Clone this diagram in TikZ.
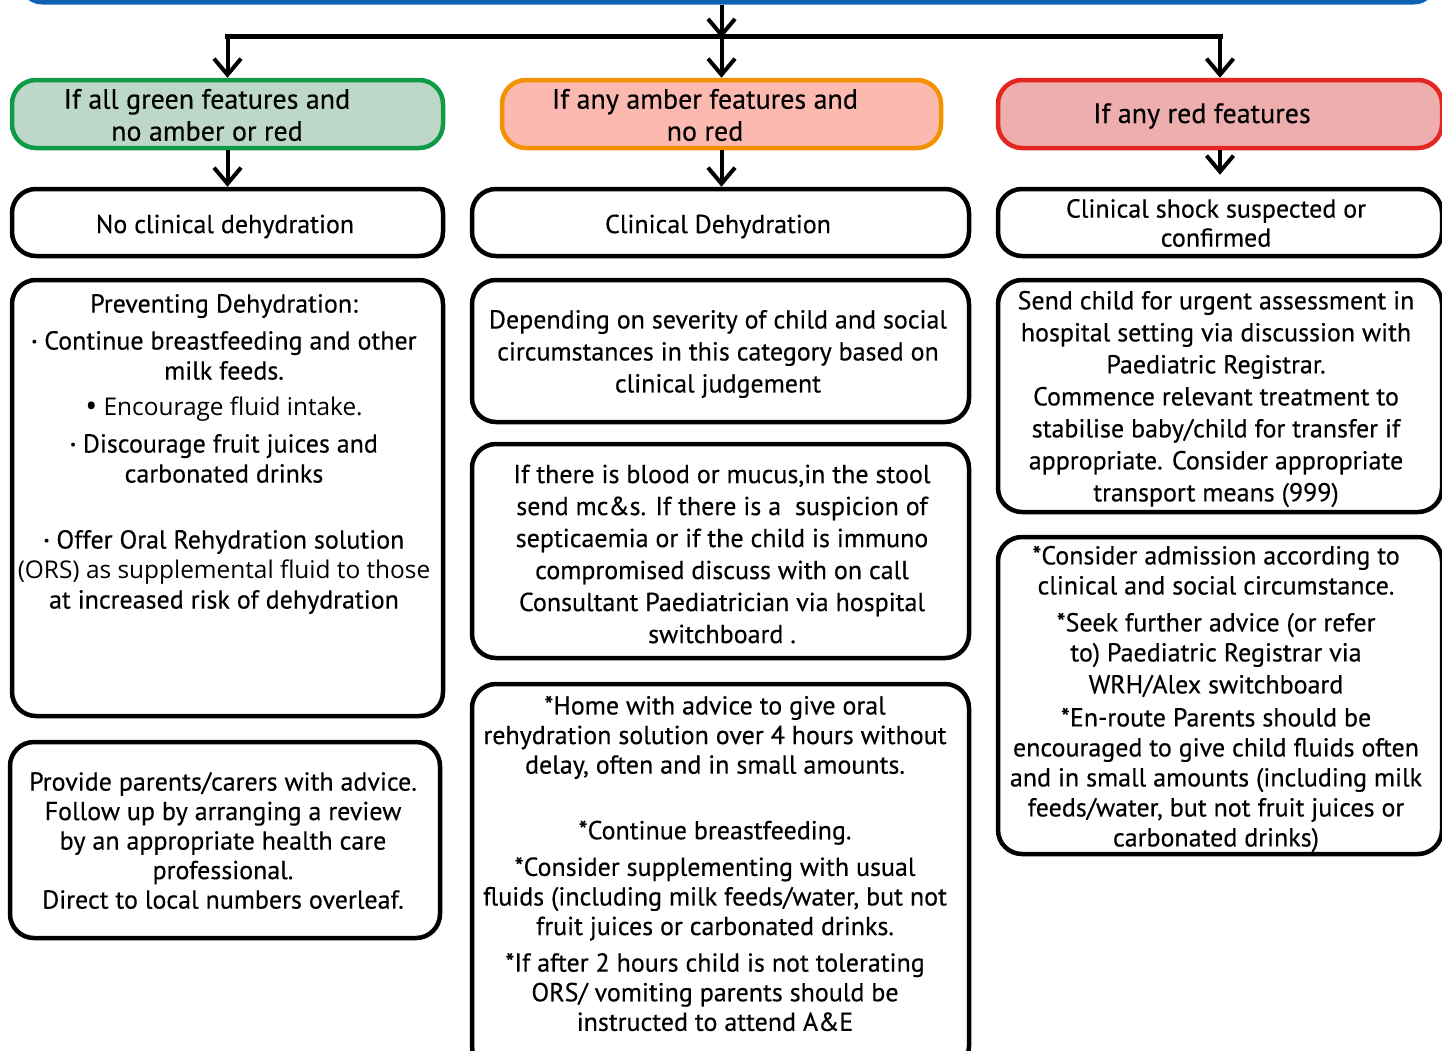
\documentclass[tikz,border=0pt]{standalone}
\usepackage{fontspec}
\setmainfont{PT Sans}[UprightFeatures={FakeBold=0.35}]
\newfontfamily\lightfont{Open Sans}
\usetikzlibrary{arrows.meta}
\definecolor{topblue}{HTML}{0D62B5}
\definecolor{gline}{HTML}{0E9A47}
\definecolor{gfill}{HTML}{BDD8C8}
\definecolor{aline}{HTML}{F39200}
\definecolor{afill}{HTML}{FBB9AF}
\definecolor{rline}{HTML}{E3261F}
\definecolor{rfill}{HTML}{EEAEAE}
\newcommand{\smallbul}{\raisebox{0.15em}{\fontsize{13}{13}\selectfont\textbullet}}
\newcommand{\bigbul}{\raisebox{-0.06em}{\fontsize{32}{30}\selectfont\textbullet}}
\newcommand{\lighttext}[1]{{\lightfont\fontsize{24.4}{30}\selectfont #1}}
\begin{document}
\begin{tikzpicture}[x=1pt,y=-1pt,
  box/.style={draw=black, line width=4.5pt, rounded corners=24pt, fill=white,
    inner sep=0pt},
  catbox/.style={box, line width=4.5pt},
  txt/.style={align=center, inner sep=0pt, font=\fontsize{26}{#1}\selectfont},
  txt/.default=30,
  cattxt/.style={align=center, inner sep=0pt, font=\fontsize{28}{32}\selectfont},
  arr/.style={line width=4pt,
    -{Straight Barb[length=16pt,width=27pt,line width=4pt]}},
  barline/.style={line width=5pt}]
\useasboundingbox (0,0) rectangle (1442,1050);

% top box (only its lower edge shows)
\node[draw=topblue, line width=5pt, rounded corners=20pt, minimum width=1412pt,
  minimum height=60pt] (top) at (728,-28) {};

% category boxes
\node[catbox, draw=gline, fill=gfill, minimum width=431pt, minimum height=68pt] (green) at (227.5,114) {};
\node[catbox, draw=aline, fill=afill, minimum width=439pt, minimum height=68pt] (amber) at (721.5,114) {};
\node[catbox, draw=rline, fill=rfill, minimum width=444pt, minimum height=68pt] (red) at (1220,114) {};
\node[cattxt] (greentxt) at (207,115) {If all green features and\\no amber or red};
\node[cattxt] (ambertxt) at (705,115) {If any amber features and\\no red};
\node[cattxt] (redtxt) at (1202,116) {If any red features};

% outcome boxes
\node[box, minimum width=431pt, minimum height=67pt] (nodeh) at (227.5,222.5) {};
\node[box, minimum width=497pt, minimum height=67pt] (cdeh) at (720.5,222.5) {};
\node[box, minimum width=444pt, minimum height=67pt] (shock) at (1220,222.5) {};
\node[txt] (nodehtxt) at (225,226.5) {No clinical dehydration};
\node[txt] (cdehtxt) at (718,226.5) {Clinical Dehydration};
\node[txt=29] (shocktxt) at (1216,223) {Clinical shock suspected or\\confirmed};

% green column
\node[box, minimum width=431pt, minimum height=436pt] (prev) at (227.5,498) {};
\node[txt] (prevtxt) at (224,454) {Preventing Dehydration:\\[7pt]
  \smallbul\ Continue breastfeeding and other\\
  milk feeds.\\[6pt]
  \lighttext{\bigbul\ Encourage fluid intake.}\\[7pt]
  \smallbul\ Discourage fruit juices and\\
  carbonated drinks\\[36pt]
  \smallbul\ Offer Oral Rehydration solution\\
  \lighttext{(ORS) as supplemental fluid to those}\\
  at increased risk of dehydration};
\node[box, minimum width=430pt, minimum height=196pt] (advice) at (225,840) {};
\node[txt=29.5] (advicetxt) at (223,840.5) {Provide parents/carers with advice.\\
  Follow up by arranging a review\\
  by an appropriate health care\\
  professional.\\
  Direct to local numbers overleaf.};

% amber column
\node[box, minimum width=497pt, minimum height=142pt] (sev) at (720.5,351) {};
\node[txt=32] (sevtxt) at (718,354) {Depending on severity of child and social\\
  circumstances in this category based on\\
  clinical judgement};
\node[box, minimum width=497pt, minimum height=214pt] (blood) at (720.5,551) {};
\node[txt=32] (bloodtxt) at (722,554) {If there is blood or mucus,in the stool\\
  send mc\&s. If there is a\ \ suspicion of\\
  septicaemia or if the child is immuno\\
  compromised discuss with on call\\
  Consultant Paediatrician via hospital\\
  switchboard .};
\node[box, minimum width=497pt, minimum height=386pt] (home) at (720.5,877) {};
\node[txt=29.6] (hometxt) at (715,863.5) {*Home with advice to give oral\\
  rehydration solution over 4 hours without\\
  delay, often and in small amounts.\\[36pt]
  *Continue breastfeeding.\\[7pt]
  *Consider supplementing with usual\\
  fluids (including milk feeds/water, but not\\
  fruit juices or carbonated drinks.\\[7pt]
  *If after 2 hours child is not tolerating\\
  ORS/ vomiting parents should be\\
  instructed to attend A\&E};

% red column
\node[box, minimum width=444pt, minimum height=232pt] (urgent) at (1220,396) {};
\node[txt=32] (urgenttxt) at (1216,399) {Send child for urgent assessment in\\
  hospital setting via discussion with\\
  Paediatric Registrar.\\
  Commence relevant treatment to\\
  stabilise baby/child for transfer if\\
  appropriate. Consider appropriate\\
  transport means (999)};
\node[box, minimum width=444pt, minimum height=317pt] (admit) at (1220,695.5) {};
\node[txt] (admittxt) at (1216,699) {*Consider admission according to\\
  clinical and social circumstance.\\[7pt]
  *Seek further advice (or refer\\
  to) Paediatric Registrar via\\[2pt]
  WRH/Alex switchboard\\[3pt]
  *En-route Parents should be\\
  encouraged to give child fluids often\\
  and in small amounts (including milk\\
  feeds/water, but not fruit juices or\\
  carbonated drinks)};

% connectors
\coordinate (jl) at (227.5,36);
\coordinate (jm) at (721.5,36);
\coordinate (jr) at (1220,36);
\draw[barline] ([xshift=-2.5pt]jl) -- ([xshift=3pt]jr);
\draw[arr] (top.south -| jm) -- ([yshift=-2pt]jm);
\draw[arr] (jl) -- (green.north);
\draw[arr] (jm) -- (amber.north);
\draw[arr] (jr) -- (red.north);
\draw[arr] (green.south) -- (nodeh.north);
\draw[arr] (amber.south) -- (amber.south |- cdeh.north);
\draw[arr, shorten >=12pt] (red.south) -- (shock.north);
\end{tikzpicture}
\end{document}
